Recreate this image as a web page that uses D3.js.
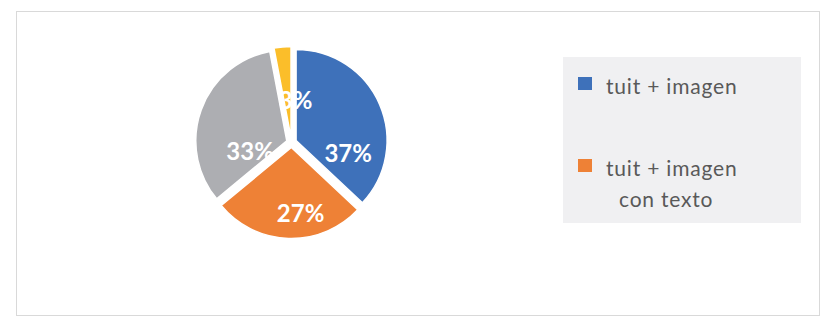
<!DOCTYPE html>
<html><head><meta charset="utf-8">
<script src="https://cdn.jsdelivr.net/npm/d3@7"></script>
<style>html,body{margin:0;padding:0;background:#fff;}svg{display:block;}</style>
</head><body>
<script>
const categories = ["tuit + imagen", "tuit + imagen con texto", "tuit", "otros"];
const values = [37, 27, 33, 3];
const labels = ["37%", "27%", "33%", "3%"];
const colors = ["#3E71BA", "#EE8136", "#ADAEB2", "#FBBE2A"];
const legendItems = [["tuit + imagen"], ["tuit + imagen", "con texto"]];
// data label placement (best-fit style): angle in degrees from 12 o'clock, radius as fraction of pie radius
const labelAngles = [104, 172, 254, 7];
const labelRadii = [0.59, 0.73, 0.42, 0.41];

const W = 838, H = 329;
const svg = d3.select("body").append("svg").attr("width", W).attr("height", H);

svg.append("rect").attr("x", 16.5).attr("y", 11.5).attr("width", 803).attr("height", 304)
  .attr("fill", "#fff").attr("stroke", "#d9d9d9").attr("stroke-width", 1);

const cx = 291.5, cy = 142.5, R = 91, explode = 5;
const pie = d3.pie().sort(null).value(d => d)(values);
const arc = d3.arc().innerRadius(0).outerRadius(R);
const g = svg.append("g").attr("transform", `translate(${cx},${cy})`);

pie.forEach((p, i) => {
  const mid = (p.startAngle + p.endAngle) / 2;
  const ox = Math.sin(mid) * explode, oy = -Math.cos(mid) * explode;
  const sg = g.append("g").attr("transform", `translate(${ox},${oy})`);
  sg.append("path").attr("d", arc(p)).attr("fill", colors[i])
    .attr("stroke", "#fff").attr("stroke-width", 1.5).attr("stroke-linejoin", "round");
});
pie.forEach((p, i) => {
  const mid = (p.startAngle + p.endAngle) / 2;
  const ox = Math.sin(mid) * explode, oy = -Math.cos(mid) * explode;
  const a = labelAngles[i] * Math.PI / 180, r = labelRadii[i] * R;
  g.append("text")
    .attr("x", ox + Math.sin(a) * r).attr("y", oy - Math.cos(a) * r)
    .attr("text-anchor", "middle").attr("dy", "0.35em")
    .attr("font-family", "Lato, 'Open Sans', sans-serif").attr("font-weight", "bold")
    .attr("font-size", 24).attr("fill", "#fff").text(labels[i]);
});

// legend
const lg = svg.append("g");
lg.append("rect").attr("x", 563).attr("y", 57).attr("width", 238).attr("height", 166).attr("fill", "#f0f0f2");
const rowY = [77, 159];
legendItems.forEach((lines, i) => {
  lg.append("rect").attr("x", 578).attr("y", rowY[i]).attr("width", 14).attr("height", 13).attr("fill", colors[i]);
  lines.forEach((t, j) => {
    lg.append("text").attr("x", j === 0 ? 606 : 619).attr("y", rowY[i] + 17 + j * 31)
      .attr("font-family", "Lato, 'Open Sans', sans-serif").attr("font-size", 21)
      .attr("letter-spacing", 0.8)
      .attr("fill", "#595959").text(t);
  });
});
</script>
</body></html>
